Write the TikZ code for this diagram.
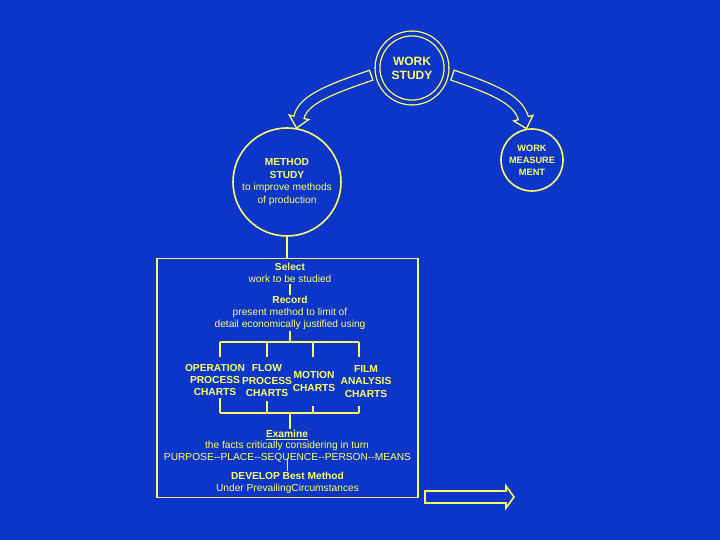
\documentclass[tikz,border=0pt]{standalone}
\usepackage{fontspec}
\setmainfont{Liberation Sans}
\usetikzlibrary{calc, backgrounds}
\definecolor{wsblue}{HTML}{0B36C9}
\definecolor{wsyellow}{HTML}{FFFF66}
\tikzset{
  txt/.style={text=wsyellow, align=center, inner sep=0.5pt, font=\fontsize{10.2}{12.2}\selectfont},
  chart/.style={txt, font=\fontsize{10.2}{12.4}\selectfont\bfseries},
  ln/.style={draw=wsyellow, line width=1.6pt},
  band/.style={draw=wsyellow, double=wsblue, double distance=9pt, line width=1.3pt, shorten >=11pt},
  head/.style={fill=wsblue, draw=wsyellow, line width=1.3pt}
}
\begin{document}
\begin{tikzpicture}[x=1pt, y=-1pt]
        \node[circle, draw=wsyellow, double=wsblue, double distance=3.5pt, line width=1.3pt, minimum size=69pt, txt, font=\fontsize{12}{14}\selectfont\bfseries] (ws) at (412,68) {WORK\\STUDY};
        \node[circle, ln, minimum size=108pt, txt, font=\fontsize{10.2}{12.6}\selectfont] (ms) at (287,182) {\textbf{METHOD}\\\textbf{STUDY}\\to improve methods\\of production};
        \node[circle, ln, minimum size=62pt, txt, font=\fontsize{9.2}{12}\selectfont\bfseries] (wm) at (532,160) {WORK\\MEASURE\\MENT};
        \node[draw=wsyellow, line width=1.8pt, minimum width=261pt, minimum height=239pt, inner sep=0pt] (box) at (287.5,378) {};
        \node[txt] (select) at (290,273) {\textbf{Select}\\work to be studied};
        \node[txt] (record) at (290,313) {\textbf{Record}\\present method to limit of\\detail economically justified using};
        \node[chart] (op) at (215,380) {OPERATION\\PROCESS\\CHARTS};
        \node[chart] (flow) at (267,380.5) {FLOW\\PROCESS\\CHARTS};
        \node[chart] (motion) at (314,381.5) {MOTION\\CHARTS};
        \node[chart] (film) at (366,381.5) {FILM\\ANALYSIS\\CHARTS};
        \node[txt, font=\fontsize{10.2}{11.4}\selectfont] (examine) at (287,440.5) {\textbf{\underline{Examine}}\\the facts critically considering in turn};
        \node[txt] (purpose) at (287.5,458) {PURPOSE-\kern0pt-PLACE-\kern0pt-SEQUENCE-\kern0pt-PERSON-\kern0pt-MEANS};
        \node[txt] (develop) at (287.5,483) {\textbf{DEVELOP Best Method}\\Under PrevailingCircumstances};
        \coordinate (t0) at (290,342); \coordinate (b0) at (290,413);
        \coordinate (ta) at (220,342); \coordinate (tb) at (267,342); \coordinate (tc) at (313,342); \coordinate (td) at (359,342);
        \coordinate (ba) at (220,413); \coordinate (bb) at (267,413); \coordinate (bc) at (313,413); \coordinate (bd) at (359,413);
        \draw[ln] (ms.south) -- (ms.south |- box.north);
        \draw[ln] (select) -- (record);
        \draw[ln] (record) -- (t0);
        \draw[ln] (ta) -- (td);
        \foreach \c in {ta,tb,tc,td} \draw[ln] (\c) -- ++(0,15);
        \draw[ln] (ba) -- (bd);
        \foreach \c/\l in {ba/15,bb/12,bc/7,bd/7} \draw[ln] (\c) -- ++(0,-\l);
        \draw[ln] (b0) -- (b0 |- examine.north);
        \draw[ln] (purpose.center) -- (develop.north);
        \draw[wsyellow, line width=1.6pt] (425,491) -- (506,491) -- (506,486) -- (514,497) -- (506,508) -- (506,503) -- (425,503) -- cycle;
        \begin{scope}[on background layer]
          \fill[wsblue] (0,0) rectangle (720,540);
          \coordinate (ls) at ($(ws.center)!1.18!(ws.190)$); \coordinate (rs) at ($(ws.center)!1.17!(ws.-10)$);
          \coordinate (la) at (328,90); \coordinate (lc) at (303,100);
          \coordinate (ra) at (496,90); \coordinate (rc) at (518,100);
          \draw[band] (ls) .. controls (la) and (lc) .. (ms.80);
          \draw[band] (rs) .. controls (ra) and (rc) .. (wm.100);
          \draw[wsyellow, line width=1.3pt] ($(ls)!5.8pt!90:(la)$) -- ($(ls)!5.8pt!-90:(la)$);
          \draw[wsyellow, line width=1.3pt] ($(rs)!5.8pt!90:(ra)$) -- ($(rs)!5.8pt!-90:(ra)$);
          \coordinate (le) at ($(ms.80)!11pt!(lc)$); \coordinate (re) at ($(wm.100)!11pt!(rc)$);
          \filldraw[head] ($(le)!10pt!90:(ms.80)$) -- (ms.80) -- ($(le)!10pt!-90:(ms.80)$) -- cycle;
          \filldraw[head] ($(re)!10pt!90:(wm.100)$) -- (wm.100) -- ($(re)!10pt!-90:(wm.100)$) -- cycle;
          \draw[wsblue, line width=9pt] ($(le)!-1pt!(ms.80)$) -- ($(le)!2pt!(ms.80)$);
          \draw[wsblue, line width=9pt] ($(re)!-1pt!(wm.100)$) -- ($(re)!2pt!(wm.100)$);
        \end{scope}
\end{tikzpicture}
\end{document}
